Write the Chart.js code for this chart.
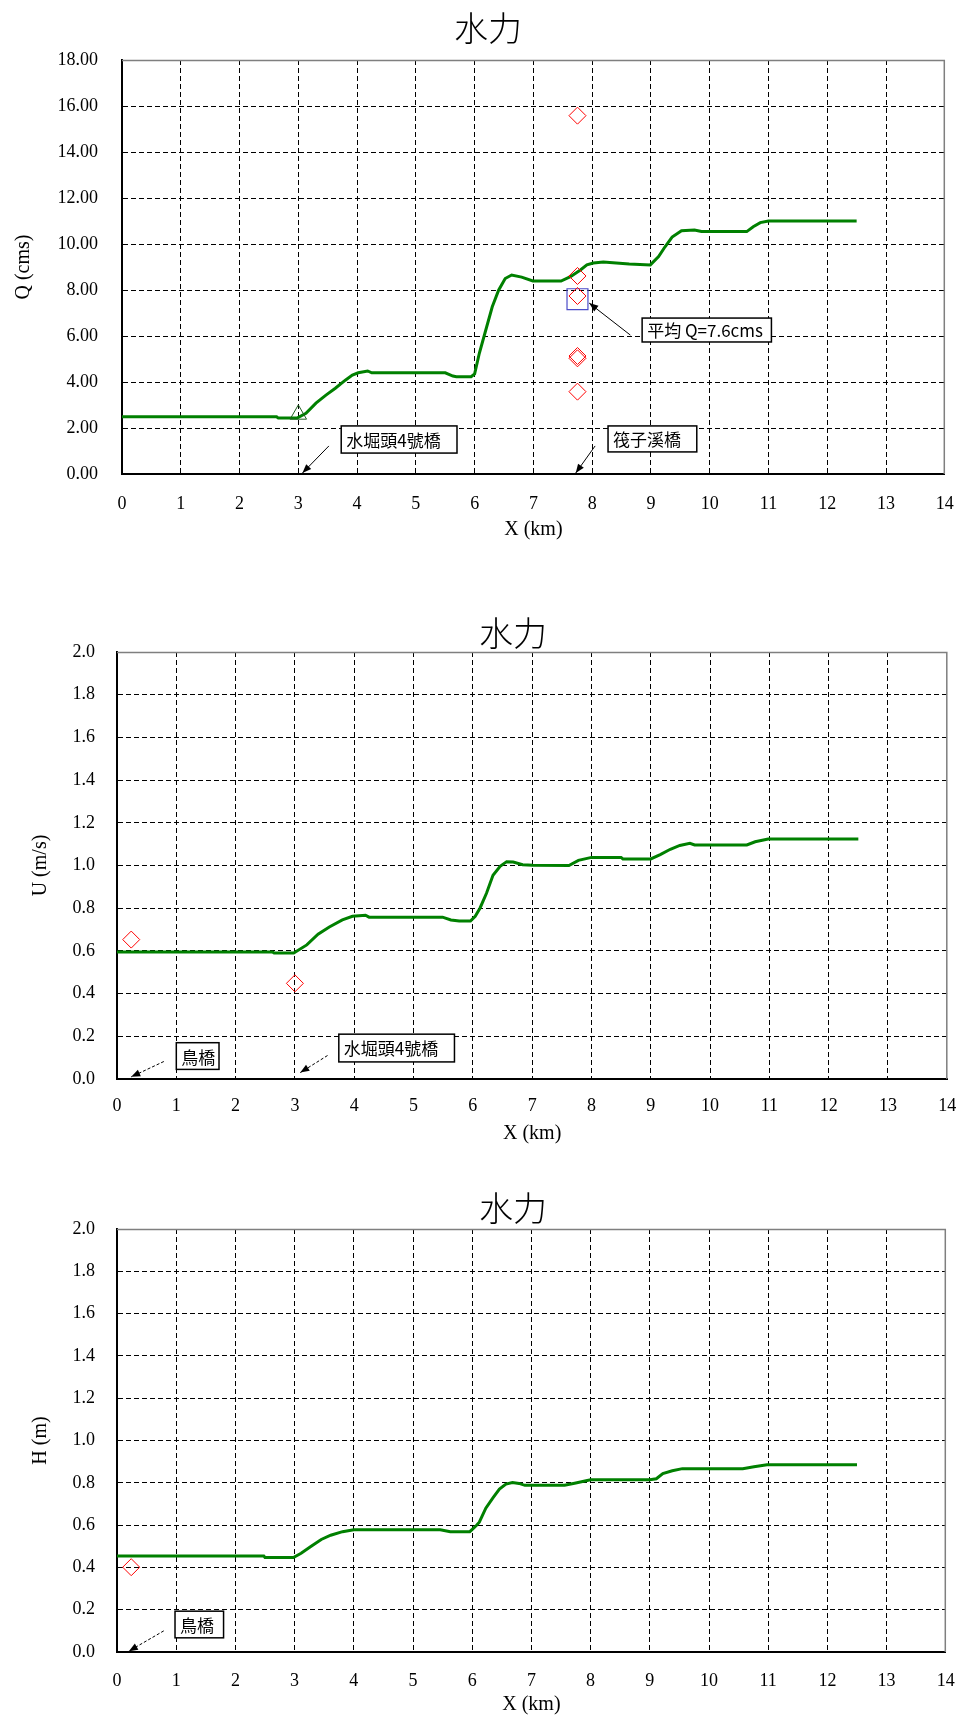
<!DOCTYPE html>
<html><head><meta charset="utf-8">
<script src="https://cdn.jsdelivr.net/npm/chart.js@4.4.1/dist/chart.umd.min.js"></script>
<style>
html,body{margin:0;padding:0;background:#fff;}
body{width:973px;height:1722px;position:relative;overflow:hidden;}
canvas{position:absolute;left:0;}
</style></head><body>
<canvas id="c1" width="973" height="545" style="top:0px"></canvas>
<canvas id="c2" width="973" height="560" style="top:590px"></canvas>
<canvas id="c3" width="973" height="552" style="top:1170px"></canvas>
<script>
// ---------- text ----------
const CHART_TITLE = '水力';
const X_TITLE = 'X (km)';
const Y_TITLES = ['Q (cms)', 'U (m/s)', 'H (m)'];

// ---------- axes ----------
const X_MIN = 0, X_MAX = 14, X_STEP = 1;
const Q_MIN = 0, Q_MAX = 18, Q_STEP = 2;
const U_MIN = 0, U_MAX = 2, U_STEP = 0.2;
const H_MIN = 0, H_MAX = 2, H_STEP = 0.2;

// ---------- chart 1 : discharge Q ----------
const qKm  = [0, 2.63, 2.66, 2.98, 3.13, 3.3, 3.47, 3.63, 3.8, 3.92, 4.02, 4.18, 4.25, 5.5, 5.63, 5.69, 5.94, 6.0, 6.08, 6.19, 6.3, 6.41, 6.52, 6.63, 6.8, 6.99, 7.47, 7.63, 7.8, 7.91, 8.02, 8.19, 8.63, 8.99, 9.13, 9.24, 9.36, 9.52, 9.74, 9.86, 10.63, 10.74, 10.86, 11.0, 12.5];
const qVal = [2.49, 2.49, 2.43, 2.43, 2.64, 3.08, 3.43, 3.73, 4.08, 4.30, 4.40, 4.48, 4.40, 4.40, 4.26, 4.23, 4.23, 4.35, 5.25, 6.26, 7.27, 8.0, 8.5, 8.65, 8.56, 8.39, 8.39, 8.58, 8.87, 9.09, 9.17, 9.22, 9.13, 9.09, 9.45, 9.88, 10.3, 10.58, 10.61, 10.54, 10.54, 10.75, 10.93, 11.0, 11.0];
const qObsKm  = [7.75, 7.75, 7.75, 7.75, 7.75, 7.75];
const qObsVal = [15.58, 8.61, 7.74, 5.13, 5.03, 3.58];
const qMeanKm = [7.75];
const qMeanVal = [7.6];
const qRefKm = [3.0];
const qRefVal = [2.59];

// ---------- chart 2 : velocity U ----------
const uKm  = [0, 2.62, 2.65, 2.98, 3.2, 3.39, 3.58, 3.8, 3.97, 4.19, 4.25, 5.49, 5.63, 5.77, 5.96, 6.04, 6.12, 6.23, 6.34, 6.46, 6.57, 6.68, 6.84, 7.01, 7.62, 7.78, 8.0, 8.5, 8.53, 9.0, 9.16, 9.33, 9.49, 9.66, 9.74, 10.62, 10.76, 10.98, 12.5];
const uVal = [0.595, 0.595, 0.59, 0.59, 0.628, 0.678, 0.712, 0.745, 0.762, 0.767, 0.758, 0.758, 0.745, 0.740, 0.740, 0.762, 0.80, 0.87, 0.954, 0.996, 1.018, 1.016, 1.004, 1.001, 1.0, 1.024, 1.038, 1.038, 1.031, 1.031, 1.051, 1.076, 1.094, 1.104, 1.096, 1.096, 1.111, 1.124, 1.124];
const uObsKm  = [0.24, 3.0];
const uObsVal = [0.653, 0.448];

// ---------- chart 3 : depth H ----------
const hKm  = [0, 2.48, 2.5, 2.98, 3.11, 3.28, 3.45, 3.61, 3.81, 4.0, 5.46, 5.63, 5.96, 6.07, 6.12, 6.23, 6.35, 6.46, 6.57, 6.68, 6.79, 6.89, 7.56, 7.73, 8.0, 9.0, 9.11, 9.22, 9.38, 9.55, 10.57, 10.76, 10.98, 12.5];
const hVal = [0.454, 0.454, 0.447, 0.447, 0.467, 0.50, 0.532, 0.552, 0.569, 0.578, 0.578, 0.569, 0.569, 0.598, 0.614, 0.68, 0.729, 0.77, 0.794, 0.801, 0.797, 0.788, 0.788, 0.798, 0.814, 0.814, 0.819, 0.844, 0.857, 0.867, 0.867, 0.876, 0.885, 0.885];
const hObsKm  = [0.24];
const hObsVal = [0.401];

// ---------- callout labels (data units: box = [x1,y1,x2,y2], arrow = [fromX,fromY,toX,toY]) ----------
const qNotes = [
  {text: '水堀頭4號橋', box: [3.73, 2.09, 5.7, 0.91], arrow: [3.52, 1.22, 3.07, 0.04]},
  {text: '筏子溪橋', box: [8.27, 2.09, 9.78, 0.96], arrow: [8.05, 1.22, 7.72, 0.04]},
  {text: '平均 Q=7.6cms', box: [8.85, 6.78, 11.05, 5.74], arrow: [8.65, 6.04, 7.95, 7.43]}
];
const uNotes = [
  {text: '鳥橋', box: [1.0, 0.17, 1.72, 0.045], arrow: [0.79, 0.082, 0.24, 0.01], dash: [3, 2]},
  {text: '水堀頭4號橋', box: [3.74, 0.21, 5.69, 0.08], arrow: [3.55, 0.11, 3.09, 0.03], dash: [3, 2]}
];
const hNotes = [
  {text: '鳥橋', box: [0.98, 0.193, 1.80, 0.067], arrow: [0.79, 0.10, 0.2, 0.004], dash: [3, 2]}
];

// ---------- styling ----------
const SERIF = '"Liberation Serif", "Times New Roman", serif';
const CJK = '"Noto Sans CJK TC", "Noto Sans CJK SC", sans-serif';
const LINE_GREEN = '#008000';

const pts = (xs, ys) => xs.map((v, i) => ({x: v, y: ys[i]}));
const near = (a, b) => Math.abs(a - b) < 1e-7;

const framePlugin = {
  id: 'frame',
  beforeDatasetsDraw(chart) {
    const {ctx, chartArea: a} = chart;
    ctx.save();
    ctx.strokeStyle = '#7f7f7f';
    ctx.lineWidth = 1.5;
    ctx.setLineDash([]);
    ctx.beginPath();
    ctx.moveTo(a.left, a.top + 0.5);
    ctx.lineTo(a.right - 0.5, a.top + 0.5);
    ctx.lineTo(a.right - 0.5, a.bottom);
    ctx.stroke();
    ctx.restore();
  }
};

const notesPlugin = {
  id: 'notes',
  afterDatasetsDraw(chart, args, opts) {
    const {ctx} = chart;
    const x = chart.scales.x, y = chart.scales.y;
    (opts.items || []).forEach(n => {
      ctx.save();
      const ax1 = x.getPixelForValue(n.arrow[0]), ay1 = y.getPixelForValue(n.arrow[1]);
      const ax2 = x.getPixelForValue(n.arrow[2]), ay2 = y.getPixelForValue(n.arrow[3]);
      ctx.strokeStyle = '#000';
      ctx.lineWidth = 1;
      ctx.setLineDash(n.dash || []);
      ctx.beginPath(); ctx.moveTo(ax1, ay1); ctx.lineTo(ax2, ay2); ctx.stroke();
      ctx.setLineDash([]);
      const ang = Math.atan2(ay2 - ay1, ax2 - ax1);
      const L = 9, W = 3.5;
      ctx.beginPath();
      ctx.moveTo(ax2, ay2);
      ctx.lineTo(ax2 - L * Math.cos(ang) + W * Math.sin(ang), ay2 - L * Math.sin(ang) - W * Math.cos(ang));
      ctx.lineTo(ax2 - L * Math.cos(ang) - W * Math.sin(ang), ay2 - L * Math.sin(ang) + W * Math.cos(ang));
      ctx.closePath();
      ctx.fillStyle = '#000';
      ctx.fill();

      const bx1 = x.getPixelForValue(n.box[0]), by1 = y.getPixelForValue(n.box[1]);
      const bx2 = x.getPixelForValue(n.box[2]), by2 = y.getPixelForValue(n.box[3]);
      ctx.fillStyle = '#fff';
      ctx.fillRect(bx1, by1, bx2 - bx1, by2 - by1);
      ctx.lineWidth = 1.5;
      ctx.strokeStyle = '#000';
      ctx.strokeRect(bx1, by1, bx2 - bx1, by2 - by1);
      ctx.font = '17px ' + CJK;
      ctx.textAlign = 'left';
      ctx.textBaseline = 'middle';
      ctx.fillStyle = '#000';
      ctx.fillText(n.text, bx1 + 5, (by1 + by2) / 2 + 1);
      ctx.restore();
    });
  }
};

function makeChart(id, o) {
  return new Chart(document.getElementById(id), {
    type: 'scatter',
    data: {datasets: o.datasets},
    options: {
      responsive: false,
      animation: false,
      devicePixelRatio: 1,
      layout: {padding: {left: o.padL, right: 11, top: 0, bottom: o.padB}},
      plugins: {
        legend: {display: false},
        tooltip: {enabled: false},
        title: {
          display: true, text: CHART_TITLE, color: '#000', align: 'center',
          font: {family: CJK, size: 34, weight: 300, lineHeight: 1},
          padding: {top: o.tTop, bottom: o.tBot}
        },
        notes: {items: o.notes}
      },
      scales: {
        x: {
          type: 'linear', min: X_MIN, max: X_MAX,
          afterFit: s => { s.height = o.xH; },
          ticks: {stepSize: X_STEP, color: '#000', font: {family: SERIF, size: 18}, padding: o.xPad, maxRotation: 0, autoSkip: false},
          grid: {color: c => (c.tick && (near(c.tick.value, X_MIN) || near(c.tick.value, X_MAX))) ? 'rgba(0,0,0,0)' : '#000', lineWidth: 1, drawTicks: false},
          border: {display: true, color: '#000', width: 2, dash: [5, 3]},
          title: {display: true, text: X_TITLE, color: '#000', font: {family: SERIF, size: 20, lineHeight: 1.2}, padding: {top: 0, bottom: 0}}
        },
        y: {
          type: 'linear', min: o.yMin, max: o.yMax,
          afterFit: s => { s.width = o.yW; },
          ticks: {stepSize: o.yStep, color: '#000', font: {family: SERIF, size: 18}, padding: o.yPad, autoSkip: false,
                  callback: v => Number(v).toFixed(o.dec)},
          grid: {color: c => (c.tick && (near(c.tick.value, o.yMin) || near(c.tick.value, o.yMax))) ? 'rgba(0,0,0,0)' : '#000', lineWidth: 1, drawTicks: false},
          border: {display: true, color: '#000', width: 2, dash: [5, 3]},
          title: {display: true, text: o.yTitle, color: '#000', font: {family: SERIF, size: 20, lineHeight: 1.2}, padding: {top: o.yTitlePad, bottom: 0}}
        }
      }
    },
    plugins: [framePlugin, notesPlugin]
  });
}

const lineDs = (xs, ys) => ({data: pts(xs, ys), showLine: true, borderColor: LINE_GREEN, borderWidth: 3, pointRadius: 0, tension: 0, fill: false, order: 5});
const diamondDs = (xs, ys) => ({data: pts(xs, ys), showLine: false, pointStyle: 'rectRot', pointRadius: 8.5, pointBorderColor: '#ff0000', pointBackgroundColor: 'rgba(0,0,0,0)', pointBorderWidth: 1, order: 1});

makeChart('c1', {
  padL: 14, padB: 3, tTop: 11, tBot: 15, xH: 68, xPad: 19.2, yW: 108, yPad: 24, yTitlePad: -2.5,
  yMin: Q_MIN, yMax: Q_MAX, yStep: Q_STEP, dec: 2, yTitle: Y_TITLES[0], notes: qNotes,
  datasets: [
    lineDs(qKm, qVal),
    diamondDs(qObsKm, qObsVal),
    {data: pts(qMeanKm, qMeanVal), showLine: false, pointStyle: 'rect', pointRadius: 14.8, pointBorderColor: '#4b4bc8', pointBackgroundColor: 'rgba(0,0,0,0)', pointBorderWidth: 1.2, order: 2},
    {data: pts(qRefKm, qRefVal), showLine: false, pointStyle: 'triangle', pointRadius: 9.5, pointBorderColor: '#1f5f1f', pointBackgroundColor: 'rgba(0,0,0,0)', pointBorderWidth: 1, order: 2}
  ]
});

makeChart('c2', {
  padL: 64, padB: 4, tTop: 26, tBot: 2, xH: 67, xPad: 16.7, yW: 53, yPad: 22, yTitlePad: -35,
  yMin: U_MIN, yMax: U_MAX, yStep: U_STEP, dec: 1, yTitle: Y_TITLES[1], notes: uNotes,
  datasets: [lineDs(uKm, uVal), diamondDs(uObsKm, uObsVal)]
});

makeChart('c3', {
  padL: 64, padB: 5, tTop: 21.5, tBot: 3.5, xH: 65, xPad: 18.2, yW: 53, yPad: 22, yTitlePad: -35,
  yMin: H_MIN, yMax: H_MAX, yStep: H_STEP, dec: 1, yTitle: Y_TITLES[2], notes: hNotes,
  datasets: [lineDs(hKm, hVal), diamondDs(hObsKm, hObsVal)]
});
</script>
</body></html>
